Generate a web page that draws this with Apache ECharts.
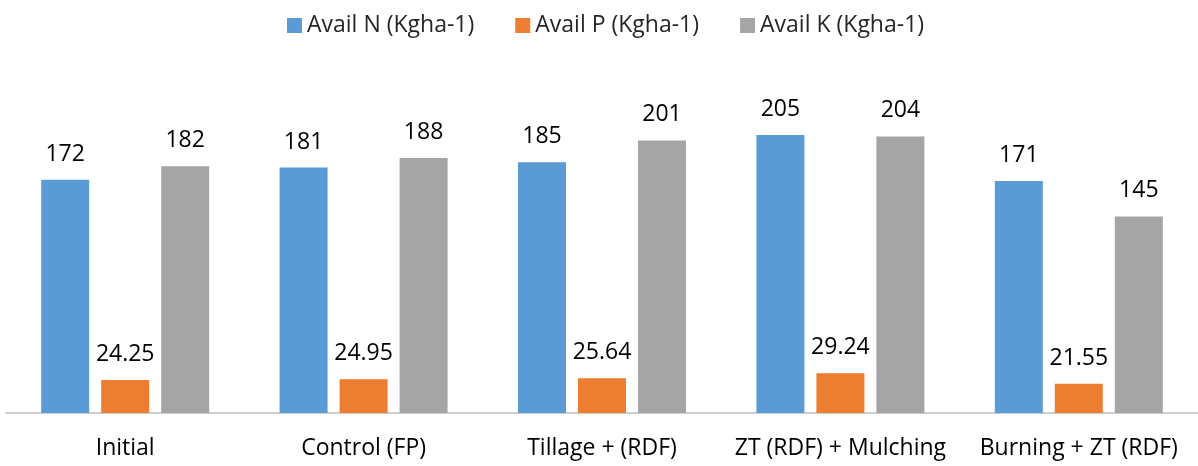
<!DOCTYPE html>
<html><head><meta charset="utf-8">
<script src="https://cdn.jsdelivr.net/npm/echarts@6/dist/echarts.min.js"></script>
<style>html,body{margin:0;padding:0;background:#fff}#c{width:1198px;height:466px}</style>
</head><body><div id="c"></div>
<script>
const categories = ["Initial", "Control (FP)", "Tillage + (RDF)", "ZT (RDF) + Mulching", "Burning + ZT (RDF)"];
const availN = [172, 181, 185, 205, 171];
const availP = [24.25, 24.95, 25.64, 29.24, 21.55];
const availK = [182, 188, 201, 204, 145];
const seriesNames = ["Avail N (Kgha-1)", "Avail P (Kgha-1)", "Avail K (Kgha-1)"];
const colors = ["#5B9BD5", "#ED7D31", "#A5A5A5"];
const font = "'Open Sans', 'Noto Sans', sans-serif";
const chart = echarts.init(document.getElementById('c'));
const mk = (name, data, color) => ({
  name, type: 'bar', data, barWidth: 48, barGap: '25%',
  itemStyle: {color},
  label: {show: true, position: 'top', distance: 14, color: '#000', fontSize: 23, fontFamily: font},
  animation: false
});
chart.setOption({
  animation: false,
  color: colors,
  legend: {
    top: 9, left: 282, itemWidth: 15, itemHeight: 15, itemGap: 41,
    icon: 'rect',
    textStyle: {fontSize: 23, color: '#262626', fontFamily: font},
    data: seriesNames
  },
  grid: {left: 6, right: 0, top: 74, bottom: 53},
  xAxis: {
    type: 'category', data: categories,
    axisLine: {lineStyle: {color: '#BFBFBF', width: 1.5}},
    axisTick: {show: false},
    axisLabel: {interval: 0, fontSize: 23, color: '#000', margin: 24, fontFamily: font}
  },
  yAxis: {type: 'value', min: 0, max: 250, show: false, splitLine: {show: false}},
  series: [mk(seriesNames[0], availN, colors[0]), mk(seriesNames[1], availP, colors[1]), mk(seriesNames[2], availK, colors[2])]
});
</script></body></html>
